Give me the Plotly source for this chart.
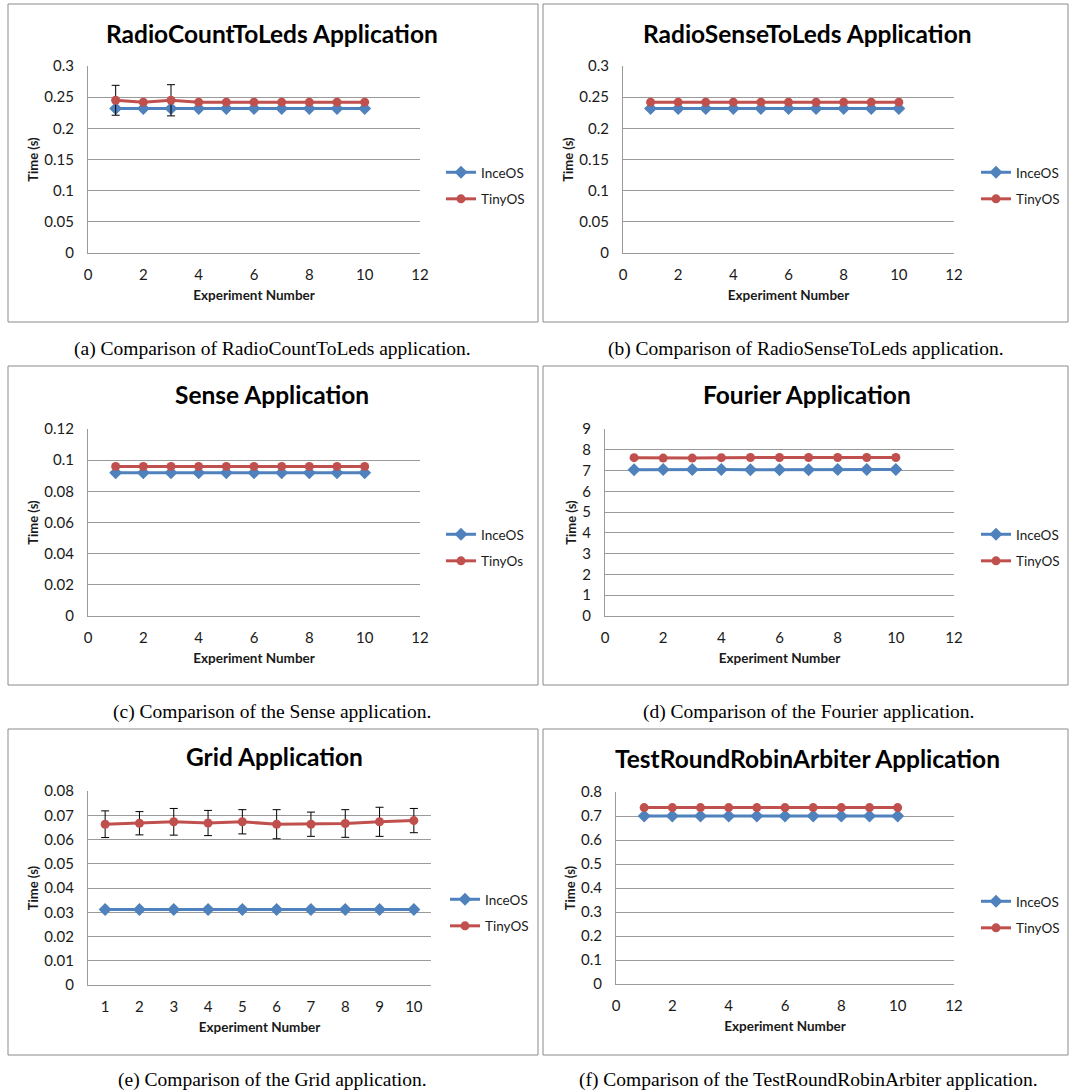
import plotly.graph_objects as go

W, H = 1070, 1092

# ---------------- data ----------------
experiments = [1, 2, 3, 4, 5, 6, 7, 8, 9, 10]

radiocount_inceos = [0.232, 0.232, 0.232, 0.232, 0.232, 0.232, 0.232, 0.232, 0.232, 0.232]
radiocount_tinyos = [0.245, 0.242, 0.245, 0.242, 0.242, 0.242, 0.242, 0.242, 0.242, 0.242]
radiocount_tinyos_err = [0.024, None, 0.025, None, None, None, None, None, None, None]

radiosense_inceos = [0.232, 0.232, 0.232, 0.232, 0.232, 0.232, 0.232, 0.232, 0.232, 0.232]
radiosense_tinyos = [0.242, 0.242, 0.242, 0.242, 0.242, 0.242, 0.242, 0.242, 0.242, 0.242]

sense_inceos = [0.092, 0.092, 0.092, 0.092, 0.092, 0.092, 0.092, 0.092, 0.092, 0.092]
sense_tinyos = [0.096, 0.096, 0.096, 0.096, 0.096, 0.096, 0.096, 0.096, 0.096, 0.096]

fourier_inceos = [7.04, 7.05, 7.05, 7.05, 7.04, 7.04, 7.04, 7.05, 7.05, 7.05]
fourier_tinyos = [7.62, 7.60, 7.60, 7.62, 7.63, 7.63, 7.63, 7.63, 7.63, 7.63]

grid_inceos = [0.0311, 0.0311, 0.0311, 0.0311, 0.0311, 0.0311, 0.0311, 0.0311, 0.0311, 0.0311]
grid_tinyos = [0.0663, 0.0667, 0.0673, 0.0668, 0.0673, 0.0663, 0.0663, 0.0666, 0.0673, 0.0678]
grid_tinyos_err = [0.0055, 0.0048, 0.0055, 0.0052, 0.0050, 0.0060, 0.0050, 0.0057, 0.0060, 0.0050]

arbiter_inceos = [0.70, 0.70, 0.70, 0.70, 0.70, 0.70, 0.70, 0.70, 0.70, 0.70]
arbiter_tinyos = [0.735, 0.735, 0.735, 0.735, 0.735, 0.735, 0.735, 0.735, 0.735, 0.735]

chart_titles = ["RadioCountToLeds Application", "RadioSenseToLeds Application",
                "Sense Application", "Fourier Application",
                "Grid Application", "TestRoundRobinArbiter Application"]
captions = ["(a) Comparison of RadioCountToLeds application.",
            "(b) Comparison of RadioSenseToLeds application.",
            "(c) Comparison of the Sense application.",
            "(d) Comparison of the Fourier application.",
            "(e) Comparison of the Grid application.",
            "(f) Comparison of the TestRoundRobinArbiter application."]
inceos_names = ["InceOS", "InceOS", "InceOS", "InceOS", "InceOS", "InceOS"]
tinyos_names = ["TinyOS", "TinyOS", "TinyOs", "TinyOS", "TinyOS", "TinyOS"]
x_title = "Experiment Number"
y_title = "Time (s)"

series_inceos = [radiocount_inceos, radiosense_inceos, sense_inceos,
                 fourier_inceos, grid_inceos, arbiter_inceos]
series_tinyos = [radiocount_tinyos, radiosense_tinyos, sense_tinyos,
                 fourier_tinyos, grid_tinyos, arbiter_tinyos]
series_tinyos_err = [radiocount_tinyos_err, None, None, None, grid_tinyos_err, None]

# ---------------- layout (pixels) ----------------
BLUE = "#4F81BD"
RED = "#C0504D"
GRID = "#9a9a9a"
FONT = "Lato"
TXT = "#1a1a1a"

# plot areas: (left, right, top, bottom) in px
areas = [(88, 420, 66, 253), (623, 954, 66, 253),
         (88, 420, 429, 616), (605, 954, 429, 616),
         (88, 431, 791, 985), (616, 954, 792, 984)]
yranges = [(0, 0.3, 0.05), (0, 0.3, 0.05), (0, 0.12, 0.02), (0, 9, 1), (0, 0.08, 0.01), (0, 0.8, 0.1)]
xranges = [(0, 12, 2), (0, 12, 2), (0, 12, 2), (0, 12, 2), (0.5, 10.5, 1), (0, 12, 2)]
boxes = [(8, 538, 4, 322), (543, 1068, 4, 322),
         (8, 538, 366, 685), (543, 1068, 366, 685),
         (8, 538, 729, 1055), (543, 1068, 729, 1055)]
title_pos = [(272, 33), (807, 33), (272, 394), (807, 394), (274, 756), (807, 758)]
caption_pos = [(272, 349), (806, 349), (272, 712), (808, 712), (272, 1080), (808, 1080)]
legend_pos = [(441, 186), (976, 186), (441, 548), (976, 548), (445, 913), (976, 915)]


def fx(p):
    return p / W


def fy(p):
    return 1 - p / H


fig = go.Figure()
layout = dict(
    width=W, height=H,
    margin=dict(l=0, r=0, t=0, b=0),
    paper_bgcolor="white", plot_bgcolor="white",
    font=dict(family=FONT, color="#000000"),
    shapes=[], annotations=[],
)

for i in range(6):
    n = i + 1
    xa = "x" if n == 1 else f"x{n}"
    ya = "y" if n == 1 else f"y{n}"
    leg = "legend" if n == 1 else f"legend{n}"
    l, r, t, b = areas[i]
    y0, y1, ydt = yranges[i]
    x0, x1, xdt = xranges[i]

    fig.add_trace(go.Scatter(
        x=experiments, y=series_inceos[i], name=inceos_names[i],
        mode="lines+markers", xaxis=xa, yaxis=ya, legend=leg,
        legendgroup=f"g{n}i",
        line=dict(color=BLUE, width=3),
        marker=dict(symbol="diamond", size=10, color=BLUE),
    ))
    err = series_tinyos_err[i]
    fig.add_trace(go.Scatter(
        x=experiments, y=series_tinyos[i], name=tinyos_names[i],
        mode="lines+markers", xaxis=xa, yaxis=ya, legend=leg,
        legendgroup=f"g{n}t",
        line=dict(color=RED, width=3),
        marker=dict(symbol="circle", size=9, color=RED),
        error_y=(dict(type="data", array=err, visible=True, color="black",
                      thickness=1, width=4) if err is not None else None),
    ))

    layout[f"xaxis{'' if n == 1 else n}"] = dict(
        domain=[fx(l), fx(r)], anchor=ya, range=[x0, x1], dtick=xdt, tick0=0,
        showgrid=False, zeroline=False, showline=True, linecolor=GRID, linewidth=1,
        ticks="", ticklabelstandoff=8, tickfont=dict(size=15, family=FONT, color=TXT),
        title=dict(text=f"<b>{x_title}</b>", standoff=8,
                   font=dict(size=13.5, family=FONT, color=TXT)),
        automargin=False, fixedrange=True,
    )
    layout[f"yaxis{'' if n == 1 else n}"] = dict(
        domain=[fy(b), fy(t)], anchor=xa, range=[y0, y1], dtick=ydt, tick0=0,
        showgrid=True, gridcolor=GRID, gridwidth=1, zeroline=False,
        showline=True, linecolor=GRID, linewidth=1,
        ticks="", ticklabelstandoff=10, tickfont=dict(size=15, family=FONT, color=TXT),
        title=dict(text=f"<b>{y_title}</b>", standoff=2,
                   font=dict(size=13, family=FONT, color=TXT)),
        automargin=False, fixedrange=True,
    )
    lx, ly = legend_pos[i]
    layout[leg] = dict(
        x=fx(lx), y=fy(ly), xanchor="left", yanchor="middle",
        xref="paper", yref="paper",
        bgcolor="rgba(0,0,0,0)", borderwidth=0,
        font=dict(size=13.5, family=FONT, color=TXT),
        tracegroupgap=6, itemwidth=30,
    )

    bl, br, bt, bb = boxes[i]
    layout["shapes"].append(dict(
        type="rect", xref="paper", yref="paper",
        x0=fx(bl), x1=fx(br), y0=fy(bb), y1=fy(bt),
        line=dict(color="#8a8a8a", width=1), fillcolor="rgba(0,0,0,0)", layer="below",
    ))
    tx, ty = title_pos[i]
    layout["annotations"].append(dict(
        text=f"<b>{chart_titles[i]}</b>", x=fx(tx), y=fy(ty), xref="paper", yref="paper",
        xanchor="center", yanchor="middle", showarrow=False,
        font=dict(size=24.5, family=FONT, color="#000"),
    ))
    cx, cy = caption_pos[i]
    layout["annotations"].append(dict(
        text=captions[i], x=fx(cx), y=fy(cy), xref="paper", yref="paper",
        xanchor="center", yanchor="middle", showarrow=False,
        font=dict(size=19.5, family="Liberation Serif", color="#000"),
    ))

fig.update_layout(**layout)
fig.write_html("out.html")
